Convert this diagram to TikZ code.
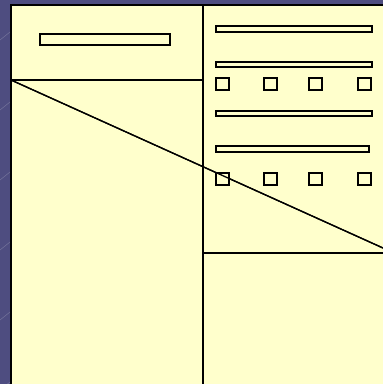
\documentclass[tikz,border=0pt]{standalone}
\definecolor{bgblue}{HTML}{4E4D80}
\definecolor{paper}{HTML}{FFFFCC}
\begin{document}
\begin{tikzpicture}[x=1pt,y=-1pt,
  frame/.style={draw=black,line width=1.6pt},
  bar/.style={draw=black,line width=1.3pt,fill=paper},
  sq/.style={draw=black,line width=1.3pt,fill=paper}]
\useasboundingbox (0,0) rectangle (383,384);
\fill[bgblue] (0,0) rectangle (383,384);
\foreach \y in {40,110,180,250,320,390}
  \draw[white,opacity=0.25,line width=0.4pt] (0,\y) -- (10,\y-8);
\begin{scope}
\clip (0,0) rectangle (383,384);
\fill[paper] (11,5) rectangle (395,395);
\draw[frame] (11,395) -- (11,5) -- (395,5);
\coordinate (tl) at (11,80);
\coordinate (tm) at (203,80);
\coordinate (vt) at (203,5);
\coordinate (vb) at (203,395);
\coordinate (hr) at (395,253);
\coordinate (hl) at (203,253);
\coordinate (de) at (383,248);
\draw[frame] (vt) -- (vb);
\draw[frame] (tl) -- (tm);
\draw[frame] (hl) -- (hr);
\draw[line width=1.3pt] (tl) -- (de);
\end{scope}
\draw[bar] (40,34) rectangle (170,45);
\draw[bar] (216,26) rectangle (372,32);
\draw[bar] (216,62) rectangle (372,67);
\draw[bar] (216,111) rectangle (372,116);
\draw[bar] (216,146) rectangle (369,152);
\foreach \x in {216,264,309,358}{
  \draw[sq] (\x,78) rectangle ++(13,12);
  \draw[sq] (\x,173) rectangle ++(13,12);
}
\draw[line width=1.3pt] (tl) -- (de);
\end{tikzpicture}
\end{document}
